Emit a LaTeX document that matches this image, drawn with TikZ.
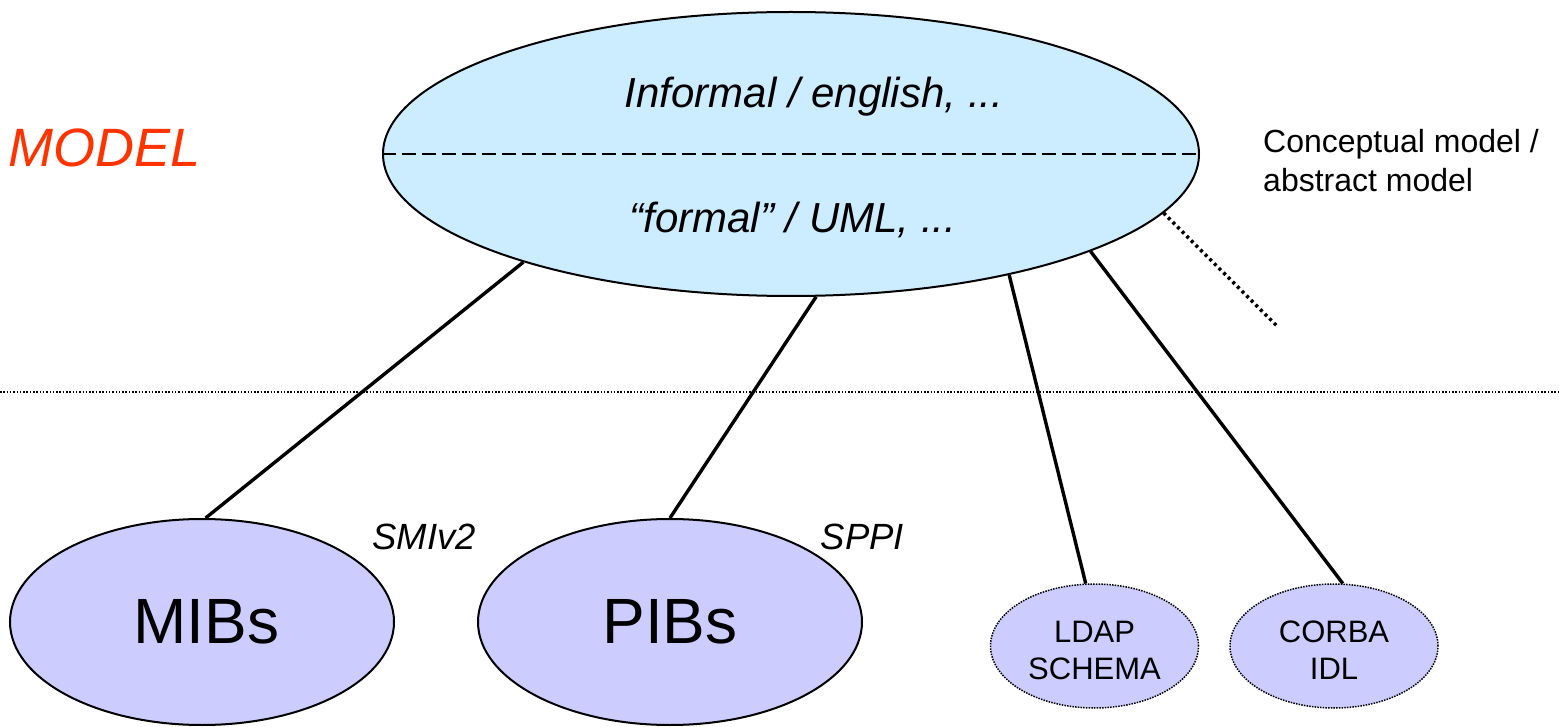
\documentclass[tikz,border=0pt]{standalone}
\usepackage{fontspec}
\setmainfont{Liberation Sans}
\usetikzlibrary{shapes.geometric}
\definecolor{topfill}{HTML}{CCECFF}
\definecolor{lowfill}{HTML}{CCCCFF}
\definecolor{modelred}{HTML}{FF3300}
\begin{document}
\begin{tikzpicture}[x=1pt,y=-1pt,
  topell/.style={ellipse, draw=black, line width=2pt, fill=topfill, inner sep=0pt,
    minimum width=816pt, minimum height=284pt},
  lowell/.style={ellipse, draw=black, line width=2pt, fill=lowfill, inner sep=0pt,
    minimum width=384pt, minimum height=206pt, font=\fontsize{64}{72}\selectfont},
  smallell/.style={ellipse, draw=black, line width=1.5pt, dash pattern=on 1.5pt off 1.2pt,
    fill=lowfill, inner sep=0pt, minimum width=208pt, minimum height=124pt,
    align=center, font=\fontsize{31}{37}\selectfont},
  link/.style={line width=3.4pt},
  dotlink/.style={line width=3.5pt, dash pattern=on 3pt off 3.5pt},
  sepline/.style={line width=2pt, dash pattern=on 14pt off 6pt},
  baseline/.style={line width=1.2pt, dash pattern=on 1.5pt off 1.8pt},
  intext/.style={anchor=base, inner sep=0pt, font=\fontsize{42}{48}\selectfont\itshape},
  lang/.style={anchor=base, inner sep=0pt, font=\fontsize{36.5}{42}\selectfont\itshape}
]
\useasboundingbox (0,0) rectangle (1559,727);

% separator across the picture
\coordinate (hl) at (0,392);
\coordinate (hr) at (1559,392);
\draw[baseline] (hl) -- (hr);

% nodes
\node[topell] (top) at (791,154) {};
\node[lowell] (mib) at (202,622) {\hspace*{9pt}MIBs};
\node[lowell] (pib) at (670,622) {PIBs};
\node[smallell] (ldap) at (1094.5,646) {\rule{0pt}{30pt}LDAP\\SCHEMA};
\node[smallell] (corba) at (1334,646) {\rule{0pt}{30pt}CORBA\\IDL};

\draw[sepline] (top.west) -- (top.east);

\node[intext] (inf) at (814,108) {Informal / english, ...};
\node[intext] (frm) at (793,233) {“formal” / UML, ...};

\node[lang] (smi) at (424,549) {SMIv2};
\node[lang] (sppi) at (862.5,549) {SPPI};

\node[anchor=base west, inner sep=0pt, text=modelred,
  font=\fontsize{54}{60}\selectfont\itshape] (model) at (8,167) {MODEL};
\node[anchor=west, inner sep=0pt, align=left,
  font=\fontsize{32}{39}\selectfont] (concept) at (1263,161) {Conceptual model /\\abstract model};

% connectors
\draw[link] (top.202) -- (mib.88);
\draw[link] (top.280) -- (pib.north);
\draw[link] (top.331) -- (ldap.98);
\draw[link] (top.342) -- (corba.82);
\coordinate (dotend) at (1278,327);
\draw[dotlink] (top.351) -- (dotend);
\end{tikzpicture}
\end{document}
